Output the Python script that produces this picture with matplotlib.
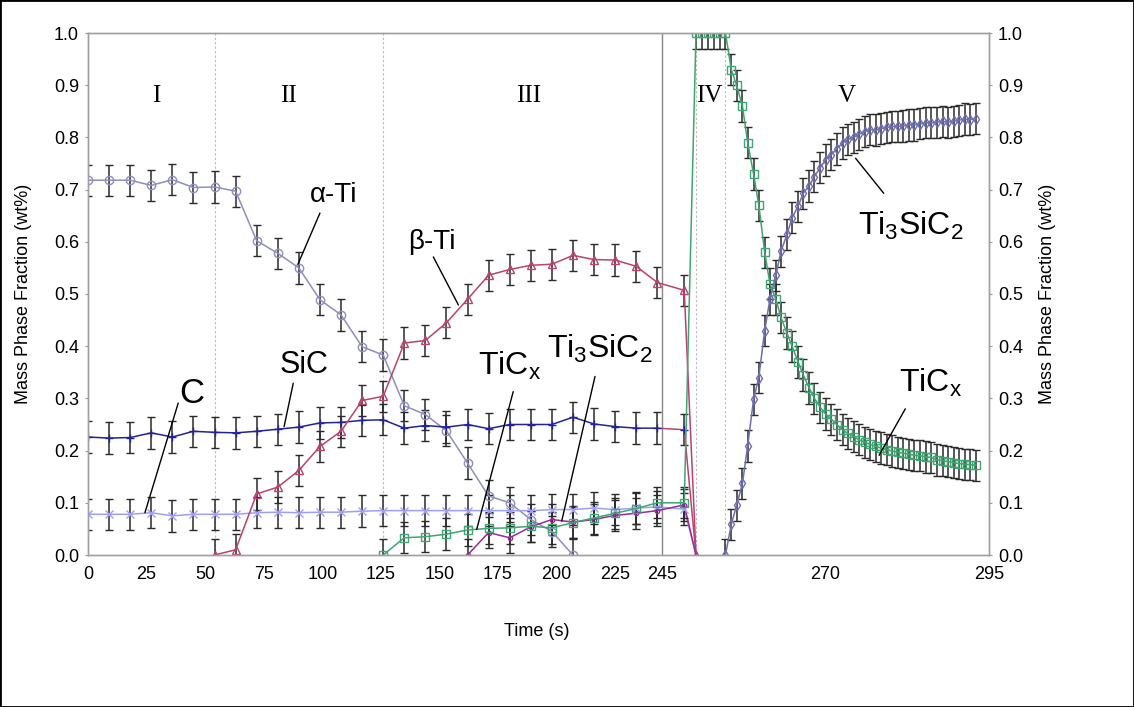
import matplotlib.pyplot as plt
import numpy as np
from matplotlib.patches import Rectangle

plt.rcParams['font.family'] = ['Liberation Sans', 'DejaVu Sans']
plt.rcParams['mathtext.fontset'] = 'custom'
plt.rcParams['mathtext.rm'] = 'Liberation Sans'
plt.rcParams['mathtext.it'] = 'Liberation Sans:italic'

# sampling times (s)
t_left = [0, 9, 18, 27, 36, 45, 54, 63, 72, 81, 90, 99, 108, 117, 126, 135,
          144, 153, 162, 171, 180, 189, 198, 207, 216, 225, 234, 243]
t_end = 248.4
t_drop = 250.2
t_plateau = [250.2, 251.1, 252.0, 252.9, 253.8]
t_v = [254.7, 255.6, 256.4, 257.3, 258.1, 259.0, 259.8, 260.7, 261.5, 262.4,
       263.2, 264.1, 264.9, 265.8, 266.6, 267.5, 268.3, 269.2, 270.0, 270.9,
       271.7, 272.6, 273.4, 274.3, 275.1, 276.0, 276.8, 277.7, 278.5, 279.4,
       280.2, 281.1, 281.9, 282.8, 283.6, 284.5, 285.3, 286.2, 287.0, 287.9,
       288.7, 289.6, 290.4, 291.3, 292.1, 293.0]

# mass phase fractions
alpha_ti = [0.718, 0.718, 0.718, 0.708, 0.719, 0.704, 0.705, 0.697, 0.602, 0.578,
            0.550, 0.489, 0.460, 0.399, 0.383, 0.286, 0.269, 0.238, 0.176, 0.113,
            0.100, 0.068, 0.045, 0.000]
beta_ti = [0.0, 0.01, 0.117, 0.13, 0.162, 0.208, 0.237, 0.296, 0.304, 0.406, 0.411,
           0.445, 0.49, 0.536, 0.547, 0.555, 0.557, 0.574, 0.566, 0.565, 0.553,
           0.522, 0.507]
sic = [0.226, 0.224, 0.225, 0.234, 0.226, 0.237, 0.235, 0.234, 0.237, 0.241,
       0.245, 0.253, 0.254, 0.258, 0.259, 0.243, 0.248, 0.245, 0.250, 0.242,
       0.250, 0.250, 0.250, 0.264, 0.251, 0.246, 0.243, 0.243, 0.240]
carbon = [0.078, 0.078, 0.078, 0.081, 0.075, 0.078, 0.078, 0.078, 0.081, 0.082,
          0.081, 0.082, 0.082, 0.084, 0.085, 0.085, 0.085, 0.085, 0.085, 0.085,
          0.085, 0.085, 0.087, 0.087, 0.090, 0.087, 0.090, 0.092, 0.088]
ticx_left = [0.0, 0.033, 0.035, 0.04, 0.048, 0.051, 0.052, 0.055, 0.052, 0.062,
             0.071, 0.08, 0.089, 0.100, 0.100]
ticx_plateau = [1.0, 1.0, 1.0, 1.0, 1.0]
ticx_v = [1.0, 0.93, 0.90, 0.86, 0.79, 0.73, 0.67, 0.58, 0.52, 0.49,
          0.455, 0.425, 0.40, 0.37, 0.345, 0.32, 0.30, 0.283, 0.27, 0.26,
          0.25, 0.24, 0.233, 0.227, 0.221, 0.216, 0.212, 0.208, 0.205, 0.202,
          0.199, 0.197, 0.195, 0.193, 0.191, 0.19, 0.188, 0.187, 0.182, 0.181,
          0.179, 0.177, 0.175, 0.174, 0.173, 0.172]
ti3sic2_left = [0.0, 0.043, 0.033, 0.054, 0.068, 0.063, 0.068, 0.076, 0.080,
                0.085, 0.096]
ti3sic2_v = [0.0, 0.059, 0.095, 0.137, 0.209, 0.298, 0.34, 0.43, 0.49, 0.536,
             0.582, 0.614, 0.646, 0.668, 0.693, 0.707, 0.725, 0.742, 0.757, 0.767,
             0.778, 0.789, 0.796, 0.80, 0.806, 0.811, 0.815, 0.814, 0.817, 0.819,
             0.821, 0.821, 0.822, 0.824, 0.824, 0.826, 0.828, 0.828, 0.829, 0.831,
             0.829, 0.831, 0.833, 0.835, 0.834, 0.836]
err = 0.03

xticks = [0, 25, 50, 75, 100, 125, 150, 175, 200, 225, 245, 270, 295]
yticks = [0.0, 0.1, 0.2, 0.3, 0.4, 0.5, 0.6, 0.7, 0.8, 0.9, 1.0]
phase_names = ['I', 'II', 'III', 'IV', 'V']
phase_pos = [29, 85.4, 188, 252.3, 273.3]
dotted_lines = [54, 126, 250.2, 254.6]

# broken time axis: 0-245 compressed, 245-295 stretched
L_SPAN, R_SPAN = 574.0, 327.0


def fwd(t):
    t = np.asarray(t, dtype=float)
    return np.where(t <= 245, t * L_SPAN / 245, L_SPAN + (t - 245) * R_SPAN / 50)


def inv(p):
    p = np.asarray(p, dtype=float)
    return np.where(p <= L_SPAN, p * 245 / L_SPAN, 245 + (p - L_SPAN) * 50 / R_SPAN)


fig = plt.figure(figsize=(11.34, 7.07), dpi=100)
ax = fig.add_axes([88 / 1134, 1 - 555 / 707, 901 / 1134, 522 / 707])
ax.set_xscale('function', functions=(fwd, inv))
ax.set_xlim(0, 295)
ax.set_ylim(0, 1.0)

ecol = '#2a2a2a'
eb = dict(yerr=err, ecolor=ecol, elinewidth=1.1, capsize=3, capthick=1.1,
          markersize=6, markerfacecolor='none', markeredgewidth=1.0, lw=1.1)

c_alpha = '#8e8ec0'
c_beta = '#b8436f'
c_sic = '#22229a'
c_c = '#9fa0f5'
c_ticx = '#3fa572'
c_t3l = '#9a2a9a'
c_t3v = '#6f6fb0'

ax.errorbar(t_left[:24], alpha_ti, color=c_alpha, marker='o', **eb)
ax.errorbar(t_left, sic[:-1], color=c_sic, marker='+', **eb)
ax.errorbar([t_end], sic[-1:], color=c_sic, marker='+', **eb)
ax.plot([t_left[-1], t_end, t_drop], [sic[-2], sic[-1], 0.0], color=c_beta, lw=1.1)
ax.errorbar(t_left + [t_end], carbon, color=c_c, marker='x', **eb)
ax.plot([t_end, t_drop], [carbon[-1], 0.0], color=c_c, lw=1.1)
ax.errorbar(t_left[6:] + [t_end], beta_ti, color=c_beta, marker='^', **eb)
ax.plot([t_end, t_drop], [beta_ti[-1], 0.0], color=c_beta, lw=1.1,
        marker='^', markevery=[1], markersize=6, markerfacecolor='none')
ax.errorbar(t_left[18:] + [t_end], ti3sic2_left, color=c_t3l, marker='.', **eb)
ax.plot([t_end, t_drop], [ti3sic2_left[-1], 0.0], color=c_t3l, lw=1.1)
ax.errorbar(t_left[14:] + [t_end] + t_plateau + t_v,
            ticx_left + ticx_plateau + ticx_v, color=c_ticx, marker='s', **eb)
ax.errorbar(t_v, ti3sic2_v, color=c_t3v, marker='d', **{**eb, 'markersize': 5})

for x in dotted_lines:
    ax.axvline(x, color='#bbbbbb', lw=0.8, ls=(0, (2, 2)), zorder=0)
ax.axvline(245, color='#888888', lw=1.0, zorder=0)

for name, x in zip(phase_names, phase_pos):
    ax.text(x, 0.879, name, ha='center', va='center', fontsize=18,
            family=['Liberation Serif', 'DejaVu Serif'])

labels = [
    ('α-Ti', (104.7, 0.676), (99, 0.655), (89.6, 0.557), 20),
    ('SiC', (92.1, 0.348), (87.6, 0.329), (83.7, 0.246), 22),
    ('C', (44.2, 0.292), (38.5, 0.291), (24.3, 0.081), 25),
    ('β-Ti', (146.7, 0.587), (147.4, 0.571), (158.1, 0.479), 20),
    (r'TiC$_\mathrm{x}$', (180.1, 0.345), (181.5, 0.313), (165.9, 0.049), 23),
    (r'Ti$_\mathrm{3}$SiC$_\mathrm{2}$', (218.5, 0.377), (216.4, 0.342), (202.2, 0.065), 23),
    (r'Ti$_\mathrm{3}$SiC$_\mathrm{2}$', (283.0, 0.614), (278.9, 0.693), (274.6, 0.76), 23),
    (r'TiC$_\mathrm{x}$', (286.0, 0.312), (282.2, 0.28), (278.2, 0.191), 23),
]
for txt, pos, a, b, fs in labels:
    ax.text(pos[0], pos[1], txt, ha='center', va='baseline', fontsize=fs)
    ax.annotate('', xy=b, xytext=a,
                arrowprops=dict(arrowstyle='-', color='black', lw=1.0,
                                shrinkA=0, shrinkB=0))

ax2 = ax.twinx()
ax2.set_ylim(0, 1.0)
for a in (ax, ax2):
    a.set_yticks(yticks)
    a.set_yticklabels([f'{v:.1f}' for v in yticks])
    a.tick_params(labelsize=13, color='#999999', length=2, width=0.8, pad=4.5)
    for s in a.spines.values():
        s.set_color('#a0a0a0')
        s.set_linewidth(1.0)
ax.set_xticks(xticks)
ax.set_xticklabels([str(v) for v in xticks])
ax.tick_params(axis='x', length=0, pad=8)
ax.minorticks_off()

ax.set_ylabel('Mass Phase Fraction (wt%)', fontsize=13)
ax.yaxis.set_label_coords(-0.062, 0.5)
ax2.set_ylabel('Mass Phase Fraction (wt%)', fontsize=13)
ax2.yaxis.set_label_coords(1.055, 0.5)
ax.set_xlabel('Time (s)', fontsize=13)
ax.xaxis.set_label_coords(0.498, -0.13)

fig.patches.append(Rectangle((0, 0), 1, 1, transform=fig.transFigure,
                             fill=False, lw=2, ec='black'))

fig.savefig('out.png', dpi=100)
